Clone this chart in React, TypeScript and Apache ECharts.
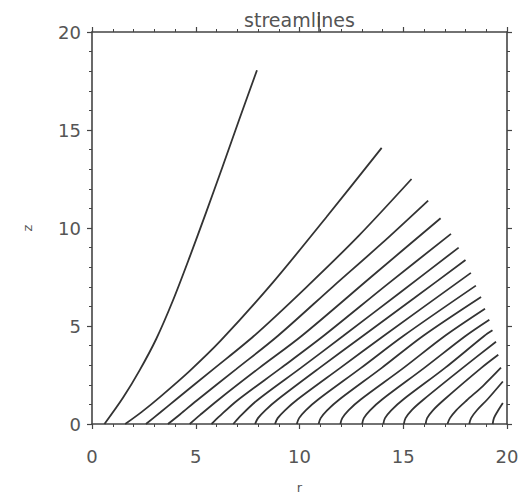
import React, { useEffect, useRef } from "react";
import * as echarts from "echarts";

// axis ticks
const rTicks = [0, 5, 10, 15, 20];
const zTicks = [0, 5, 10, 15, 20];

// streamlines: [r, z] points
const line01 = [[0.6, 0], [1.5, 1.35], [2.3, 2.75], [3.1, 4.35], [3.9, 6.3], [4.7, 8.5], [5.5, 10.8], [6.3, 13.15], [7.1, 15.55], [7.95, 18.05]];
const line02 = [[1.6, 0], [2.4, 0.62], [3.3, 1.4], [4.7, 2.7], [6.2, 4.25], [8.7, 7.2], [11.3, 10.56], [13.96, 14.09]];
const line03 = [[2.6, 0], [3.3, 0.6], [4.05, 1.25], [5.85, 2.8], [7.8, 4.49], [10.3, 6.95], [12.85, 9.6], [15.4, 12.5]];
const line04 = [[3.66, 0], [4.25, 0.5], [5.05, 1.2], [6.95, 2.8], [8.95, 4.49], [11.6, 7.0], [13.95, 9.2], [16.2, 11.4]];
const line05 = [[4.71, 0], [5.2, 0.45], [6.05, 1.2], [8.05, 2.85], [10.1, 4.49], [13.45, 7.5], [16.8, 10.5]];
const line06 = [[5.76, 0], [6.15, 0.4], [7.0, 1.2], [9.1, 2.85], [11.15, 4.49], [14.2, 7.1], [17.3, 9.7]];
const line07 = [[6.81, 0], [7.1, 0.35], [7.95, 1.2], [10.05, 2.85], [12.1, 4.49], [14.9, 6.75], [17.67, 9.0]];
const line08 = [[7.86, 0], [8.0, 0.3], [8.35, 0.7], [8.95, 1.25], [10.95, 2.85], [13.05, 4.49], [15.5, 6.4], [18.0, 8.37]];
const line09 = [[8.82, 0], [8.95, 0.3], [9.3, 0.7], [9.9, 1.25], [11.95, 2.85], [14.05, 4.49], [18.26, 7.71]];
const line10 = [[9.87, 0], [9.98, 0.3], [10.3, 0.7], [10.9, 1.25], [12.95, 2.85], [15.0, 4.49], [18.5, 7.06]];
const line11 = [[10.92, 0], [11.02, 0.3], [11.33, 0.7], [11.92, 1.25], [13.95, 2.85], [15.95, 4.49], [18.75, 6.48]];
const line12 = [[11.97, 0], [12.06, 0.3], [12.36, 0.7], [12.95, 1.25], [15.0, 2.85], [17.0, 4.49], [18.94, 5.88]];
const line13 = [[13.02, 0], [13.1, 0.3], [13.4, 0.7], [13.98, 1.25], [16.0, 2.85], [18.0, 4.49], [19.15, 5.32]];
const line14 = [[14.04, 0], [14.12, 0.3], [14.42, 0.7], [15.0, 1.25], [17.0, 2.85], [18.9, 4.49], [19.3, 4.78]];
const line15 = [[15.03, 0], [15.11, 0.3], [15.4, 0.7], [15.98, 1.25], [17.85, 2.85], [19.47, 4.2]];
const line16 = [[16.08, 0], [16.15, 0.3], [16.43, 0.7], [16.98, 1.25], [18.75, 2.85], [19.58, 3.53]];
const line17 = [[17.13, 0], [17.25, 0.3], [17.55, 0.7], [18.05, 1.2], [18.85, 1.95], [19.71, 2.87]];
const line18 = [[18.18, 0], [18.27, 0.3], [18.55, 0.7], [19.05, 1.25], [19.8, 2.17]];
const line19 = [[19.31, 0], [19.37, 0.3], [19.55, 0.65], [19.8, 1.07]];

const streamlines = [
  line01, line02, line03, line04, line05, line06, line07, line08, line09, line10,
  line11, line12, line13, line14, line15, line16, line17, line18, line19,
];

const TITLE = "streamlines";
const FONT = "DejaVu Sans";
const AXIS_COLOR = "#444";
const TEXT_COLOR = "#555";

export default function App() {
  const ref = useRef<HTMLDivElement>(null);

  useEffect(() => {
    document.body.style.margin = "0";
    if (!ref.current) return;
    const chart = echarts.init(ref.current, null, { renderer: "svg" });

    const axisCommon = {
      type: "value" as const,
      min: rTicks[0],
      max: rTicks[rTicks.length - 1],
      interval: 5,
      axisLine: { show: true, onZero: false, lineStyle: { color: AXIS_COLOR, width: 1.6 } },
      axisTick: { show: true, inside: false, length: 5, lineStyle: { color: AXIS_COLOR, width: 1.2 } },
      minorTick: { show: true, splitNumber: 5, length: 3, lineStyle: { color: AXIS_COLOR, width: 1 } },
      splitLine: { show: false },
      minorSplitLine: { show: false },
    };

    chart.setOption({
      animation: false,
      backgroundColor: "#ffffff",
      graphic: [
        {
          type: "text",
          silent: true,
          x: 299.5,
          y: 20,
          style: {
            text: TITLE,
            align: "center",
            verticalAlign: "middle",
            fontFamily: FONT,
            fontSize: 19,
            fill: TEXT_COLOR,
          },
        },
        {
          type: "line",
          silent: true,
          shape: { x1: 319, y1: 12, x2: 319, y2: 32 },
          style: { stroke: AXIS_COLOR, lineWidth: 1.5 },
        },
      ],
      grid: { left: 92, right: 25, top: 32, bottom: 65, containLabel: false },
      xAxis: [
        {
          ...axisCommon,
          position: "bottom",
          name: "r",
          nameLocation: "middle",
          nameGap: 57,
          nameTextStyle: { fontFamily: FONT, fontSize: 13, color: TEXT_COLOR },
          axisLabel: {
            show: true,
            margin: 23,
            fontFamily: FONT,
            fontSize: 18,
            color: TEXT_COLOR,
            formatter: (v: number) => (rTicks.includes(v) ? String(v) : ""),
          },
        },
        {
          ...axisCommon,
          position: "top",
          axisLabel: { show: false },
        },
      ],
      yAxis: [
        {
          ...axisCommon,
          min: zTicks[0],
          max: zTicks[zTicks.length - 1],
          position: "left",
          name: "z",
          nameLocation: "middle",
          nameGap: 58,
          nameRotate: 90,
          nameTextStyle: { fontFamily: FONT, fontSize: 13, color: TEXT_COLOR },
          axisLabel: {
            show: true,
            margin: 11,
            fontFamily: FONT,
            fontSize: 18,
            color: TEXT_COLOR,
            formatter: (v: number) => (zTicks.includes(v) ? String(v) : ""),
          },
        },
        {
          ...axisCommon,
          min: zTicks[0],
          max: zTicks[zTicks.length - 1],
          position: "right",
          axisLabel: { show: false },
        },
      ],
      series: streamlines.map((pts, i) => ({
        name: "streamline " + (i + 1),
        type: "line",
        xAxisIndex: 0,
        yAxisIndex: 0,
        data: pts,
        showSymbol: false,
        smooth: 0.3,
        lineStyle: { color: "#333", width: 1.8 },
        silent: true,
      })),
    });

    return () => chart.dispose();
  }, []);

  return <div ref={ref} style={{ width: 532, height: 499 }} />;
}
